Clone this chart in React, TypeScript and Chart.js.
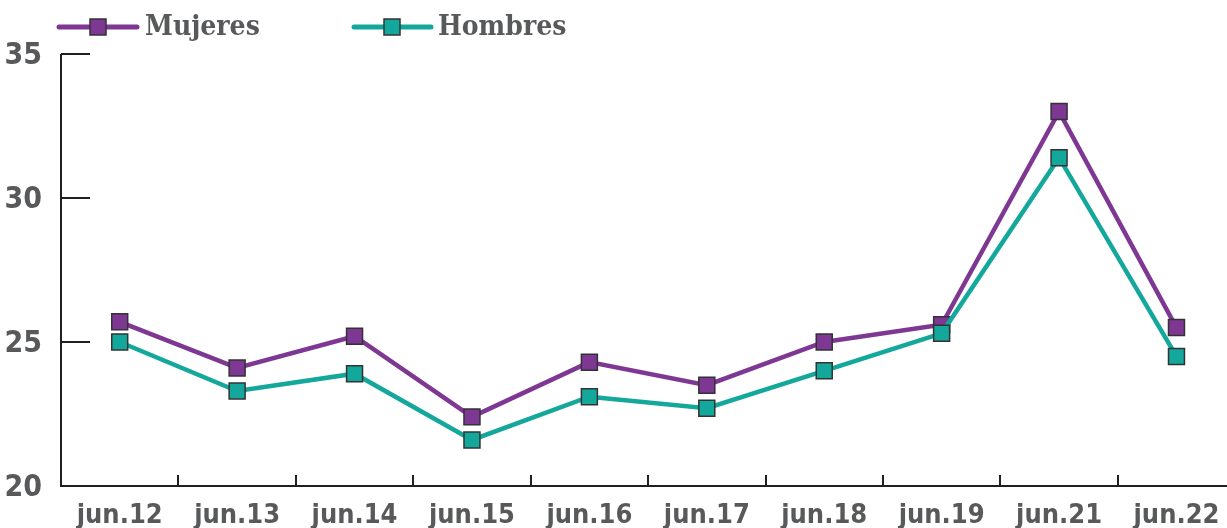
import React, { useEffect, useRef } from "react";
import { Chart, registerables } from "chart.js";

Chart.register(...registerables);

const categories = ["jun.12", "jun.13", "jun.14", "jun.15", "jun.16", "jun.17", "jun.18", "jun.19", "jun.21", "jun.22"];
const mujeres = [25.7, 24.1, 25.2, 22.4, 24.3, 23.5, 25.0, 25.6, 33.0, 25.5];
const hombres = [25.0, 23.3, 23.9, 21.6, 23.1, 22.7, 24.0, 25.3, 31.4, 24.5];
const seriesNames = ["Mujeres", "Hombres"];
const yTicks = [20, 25, 30, 35];

const PURPLE = "#7f3794";
const TEAL = "#14a89c";
const TEXT = "#58595b";
const AXIS = "#231f20";
const NUM_FONT = "'Liberation Sans Narrow', 'DejaVu Sans Condensed', 'Roboto', sans-serif";
const LEG_FONT = "'DejaVu Serif Condensed', 'DejaVu Serif', serif";

const W = 1248;

const axesPlugin = {
  id: "customAxes",
  afterDatasetsDraw(chart: any) {
    const { ctx, chartArea, scales } = chart;
    const y = scales.y;
    const x = scales.x;
    ctx.save();
    ctx.strokeStyle = AXIS;
    ctx.lineWidth = 2;
    yTicks.forEach((v) => {
      if (v === y.min) return;
      const py = Math.round(y.getPixelForValue(v));
      ctx.beginPath();
      ctx.moveTo(chartArea.left, py);
      ctx.lineTo(chartArea.left + 29, py);
      ctx.stroke();
    });
    for (let i = 0; i < categories.length - 1; i++) {
      const px = Math.round((x.getPixelForValue(i) + x.getPixelForValue(i + 1)) / 2);
      ctx.beginPath();
      ctx.moveTo(px, chartArea.bottom);
      ctx.lineTo(px, chartArea.bottom - 11);
      ctx.stroke();
    }
    ctx.beginPath();
    ctx.moveTo(chartArea.left, chartArea.top);
    ctx.lineTo(chartArea.left, chartArea.bottom);
    ctx.lineTo(chartArea.right, chartArea.bottom);
    ctx.stroke();
    ctx.restore();
  },
};

const legendPlugin = {
  id: "customLegend",
  afterDraw(chart: any) {
    const { ctx } = chart;
    const items = [
      { name: seriesNames[0], color: PURPLE, x1: 59, x2: 137, sq: 98, tx: 145 },
      { name: seriesNames[1], color: TEAL, x1: 354, x2: 431, sq: 392, tx: 438 },
    ];
    const cy = 27;
    ctx.save();
    items.forEach((it) => {
      ctx.strokeStyle = it.color;
      ctx.lineWidth = 5;
      ctx.lineCap = "round";
      ctx.beginPath();
      ctx.moveTo(it.x1, cy);
      ctx.lineTo(it.x2, cy);
      ctx.stroke();
      ctx.fillStyle = it.color;
      ctx.fillRect(it.sq - 8, cy - 8, 16, 16);
      ctx.strokeStyle = "#333333";
      ctx.lineWidth = 1.5;
      ctx.strokeRect(it.sq - 8, cy - 8, 16, 16);
      ctx.fillStyle = TEXT;
      ctx.font = `bold 28px ${LEG_FONT}`;
      ctx.textBaseline = "middle";
      ctx.textAlign = "left";
      ctx.fillText(it.name, it.tx, cy + 1);
    });
    ctx.restore();
  },
};

export default function App() {
  const ref = useRef<HTMLCanvasElement>(null);
  useEffect(() => {
    if (!ref.current) return;
    const mk = (label: string, data: number[], color: string) => ({
      label,
      data,
      borderColor: color,
      backgroundColor: color,
      borderWidth: 4.5,
      pointStyle: "rect",
      pointRadius: 11.3,
      pointBorderColor: "#333333",
      pointBorderWidth: 1.5,
      pointBackgroundColor: color,
      tension: 0,
    });
    const chart = new Chart(ref.current, {
      type: "line",
      data: {
        labels: categories,
        datasets: [mk(seriesNames[1], hombres, TEAL), mk(seriesNames[0], mujeres, PURPLE)],
      },
      options: {
        animation: false,
        responsive: false,
        maintainAspectRatio: false,
        layout: { padding: { top: 54, right: 5, left: 0, bottom: 0 } },
        plugins: { legend: { display: false }, tooltip: { enabled: false } },
        scales: {
          x: {
            offset: true,
            border: { display: false },
            grid: { display: false, drawTicks: false, offset: true },
            ticks: {
              color: TEXT,
              font: { family: NUM_FONT, size: 27, weight: "bold" },
              padding: 14,
              maxRotation: 0,
              autoSkip: false,
            },
            afterFit: (s: any) => {
              s.height = 42;
              s.paddingLeft = 0;
              s.paddingRight = 0;
            },
          },
          y: {
            min: 20,
            max: 35,
            border: { display: false },
            grid: { display: false, drawTicks: false },
            afterBuildTicks: (s: any) => {
              s.ticks = yTicks.map((v) => ({ value: v }));
            },
            ticks: {
              color: TEXT,
              font: { family: NUM_FONT, size: 30, weight: "bold" },
              padding: 19,
              labelOffset: 2,
            },
            afterFit: (s: any) => {
              s.width = 61;
            },
          },
        },
      },
      plugins: [axesPlugin, legendPlugin],
    } as any);
    return () => chart.destroy();
  }, []);
  return (
    <div style={{ position: "fixed", left: 0, top: 0, width: W, height: 528, background: "#fff" }}>
      <canvas ref={ref} width={W} height={528} style={{ width: W, height: 528, display: "block" }} />
    </div>
  );
}
